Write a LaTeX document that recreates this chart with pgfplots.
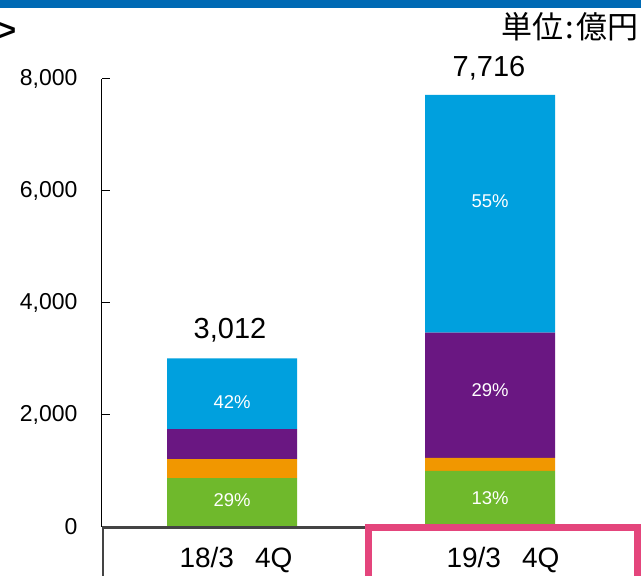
\documentclass[border=0pt]{standalone}
\usepackage{pgfplots}
\pgfplotsset{compat=1.18}
\usepackage{fontspec}
\setmainfont{Liberation Sans}
\newfontfamily\cjk{Noto Sans CJK JP}
\definecolor{cblue}{RGB}{0,160,222}
\definecolor{cpurple}{RGB}{106,23,130}
\definecolor{corange}{RGB}{241,151,0}
\definecolor{cgreen}{RGB}{111,185,44}
\definecolor{cpink}{RGB}{228,69,124}
\definecolor{topblue}{RGB}{0,106,180}
\definecolor{boxgray}{RGB}{68,68,68}
\begin{document}
\begin{tikzpicture}
\useasboundingbox (0pt,0pt) rectangle (641pt,576pt);
\fill[white] (0pt,0pt) rectangle (641pt,576pt);
\fill[topblue] (0pt,568pt) rectangle (641pt,576pt);
\node[anchor=base west, inner sep=0pt, font=\bfseries\fontsize{30}{34}\selectfont] at (-1.5pt,535.5pt) {>};
\node[anchor=base east, inner sep=0pt, font=\cjk\fontsize{31}{34}\selectfont] at (639pt,537pt) {単位\hspace{2.5pt}:\hspace{2.5pt}億円};
\begin{axis}[
  at={(102pt,49pt)}, anchor=south west, scale only axis,
  width=539pt, height=448pt,
  xmin=-0.504, xmax=1.585, ymin=0, ymax=8000,
  axis y line=left, axis x line=none,
  y axis line style={-, black, line width=1pt},
  xtick=\empty,
  ytick={0,2000,4000,6000,8000},
  tick align=inside, major tick length=8pt,
  ytick style={black, line width=1pt},
  yticklabel style={font=\fontsize{23}{26}\selectfont, xshift=-21pt},
  /pgf/number format/.cd, 1000 sep={,}, assume math mode=true,
  /pgfplots/.cd,
  ybar stacked, bar width=130pt,
  clip=false,
]
\addplot[fill=cgreen, draw=none] coordinates {(0,873) (1,1003)};
\addplot[fill=corange, draw=none] coordinates {(0,340) (1,231)};
\addplot[fill=cpurple, draw=none] coordinates {(0,534) (1,2238)};
\addplot[fill=cblue, draw=none] coordinates {(0,1265) (1,4244)};
\coordinate (t1) at (axis cs:-0.008,3012);
\coordinate (t2) at (axis cs:0.996,7716);
\coordinate (a1) at (axis cs:0,2232);
\coordinate (a2) at (axis cs:0,482);
\coordinate (b1) at (axis cs:1,5812);
\coordinate (b2) at (axis cs:1,2446);
\coordinate (b3) at (axis cs:1,518);
\end{axis}
\node[anchor=base, inner sep=0pt, yshift=20pt, font=\fontsize{29}{32}\selectfont] at (t1) {3,012};
\node[anchor=base, inner sep=0pt, yshift=18pt, font=\fontsize{29}{32}\selectfont] at (t2) {7,716};
\node[white, inner sep=0pt, font=\fontsize{18.5}{20}\selectfont] at (a1) {42\%};
\node[white, inner sep=0pt, font=\fontsize{18.5}{20}\selectfont] at (a2) {29\%};
\node[white, inner sep=0pt, font=\fontsize{18.5}{20}\selectfont] at (b1) {55\%};
\node[white, inner sep=0pt, font=\fontsize{18.5}{20}\selectfont] at (b2) {29\%};
\node[white, inner sep=0pt, font=\fontsize{18.5}{20}\selectfont] at (b3) {13\%};
\draw[boxgray, line width=2.5pt] (103pt,-5pt) -- (103pt,48.5pt) -- (370pt,48.5pt);
\draw[cpink, line width=7pt] (368.5pt,-20pt) rectangle (637.5pt,48pt);
\node[anchor=base, inner sep=0pt, font=\fontsize{28}{32}\selectfont] at (236pt,8pt) {18/3\hspace{21pt}4Q};
\node[anchor=base, inner sep=0pt, font=\fontsize{28}{32}\selectfont] at (503pt,8pt) {19/3\hspace{21pt}4Q};
\end{tikzpicture}
\end{document}
